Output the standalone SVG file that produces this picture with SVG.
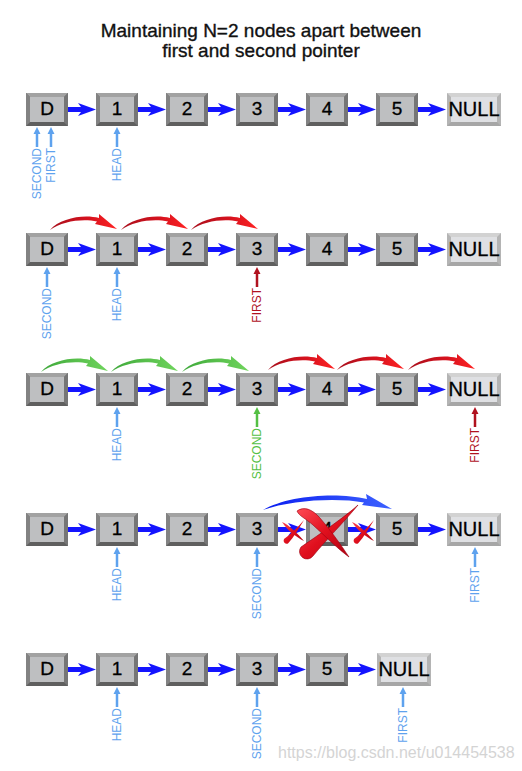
<svg xmlns="http://www.w3.org/2000/svg" width="522" height="771" viewBox="0 0 522 771">
<style>
.t{font-family:"Liberation Sans",Arial,sans-serif}
.title{font-size:19px;fill:#111;stroke:#111;stroke-width:0.35px;text-anchor:middle}
.nt{font-size:19px;fill:#000;stroke:#000;stroke-width:0.3px;text-anchor:middle}
.nn{font-size:20px;fill:#000;stroke:#000;stroke-width:0.3px;text-anchor:middle}
.pl{font-size:12px;text-anchor:end}
.b{fill:#5ea2ee}
.r{fill:#b0121f}
.g{fill:#54c044}
.lk{fill:#1414ff}
.wm{font-size:16px;fill:#d4d4d4}
</style>
<defs>
<linearGradient id="gRed" x1="0" y1="0" x2="1" y2="0">
<stop offset="0" stop-color="#a80f1c"/><stop offset="0.6" stop-color="#d8121e"/><stop offset="1" stop-color="#ff2424"/>
</linearGradient>
<linearGradient id="gGreen" x1="0" y1="0" x2="1" y2="0">
<stop offset="0" stop-color="#3ea83a"/><stop offset="1" stop-color="#6fd45c"/>
</linearGradient>
<linearGradient id="gBlue" x1="0" y1="0" x2="1" y2="0">
<stop offset="0" stop-color="#0a1ef0"/><stop offset="1" stop-color="#3d62ff"/>
</linearGradient>
<linearGradient id="gX" x1="0" y1="0" x2="1" y2="1">
<stop offset="0" stop-color="#ff4a55"/><stop offset="0.5" stop-color="#e0101e"/><stop offset="1" stop-color="#b00010"/>
</linearGradient>
<g id="box">
<rect width="42" height="33" fill="#6e6e6e"/>
<polygon points="0,0 42,0 38,4 4,4" fill="#a2a2a2"/>
<polygon points="0,33 42,33 38,29 4,29" fill="#5f5f5f"/>
<polygon points="0,0 4,4 4,29 0,33" fill="#828282"/>
<polygon points="42,0 38,4 38,29 42,33" fill="#767676"/>
<rect x="4" y="4" width="34" height="25" fill="#bebfc1"/>
</g>
<g id="nbox">
<rect width="54" height="33" fill="#b4b4b4"/>
<polygon points="0,0 54,0 50,4 4,4" fill="#d2d2d2"/>
<polygon points="0,33 54,33 50,29 4,29" fill="#a6a6a6"/>
<rect x="4" y="4" width="46" height="25" fill="#dfe0e3"/>
</g>
<path id="link" d="M0,-2.5 H13 L10,-6.5 L28,0 L10,6.5 L13,2.5 H0 Z"/>
<path id="ptr" d="M0,0 L3.5,7 L1.25,7 L1.25,20 L-1.25,20 L-1.25,7 L-3.5,7 Z"/>
<path id="arc" d="M0,0 C10,-12 34,-16 49,-12 L49,-16 L67,-1 L45,-6 L47,-8.5 C33,-11.5 12,-9 0,0 Z"/>
<path id="bigArc" d="M0,0 C25,-15 75,-18 104,-11 L103,-16 L129,-1 L99,-5 L101,-7.5 C74,-12.5 28,-10 0,0 Z"/>
<g id="smallX">
<path d="M-11,-9 C-4,-6 4,2 11,10 C3,6 -5,0 -11,-9 Z" fill="url(#gX)"/>
<path d="M11,-11 C5,-4 -2,3 -9,8 A3.2,3.2 0 0 0 -5,12.5 C1,6 6,-3 11,-11 Z" fill="url(#gX)"/>
</g>
</defs>

<g id="title" class="t">
<text class="title" x="261" y="37">Maintaining N=2 nodes apart between</text>
<text class="title" x="261" y="57">first and second pointer</text>
</g>

<!-- Row 1 -->
<g id="r1-D" class="t"><use href="#box" x="26" y="93"/><text class="nt" x="47" y="114.5">D</text></g>
<g id="r1-1" class="t"><use href="#box" x="96" y="93"/><text class="nt" x="117" y="114.5">1</text></g>
<g id="r1-2" class="t"><use href="#box" x="166" y="93"/><text class="nt" x="187" y="114.5">2</text></g>
<g id="r1-3" class="t"><use href="#box" x="236" y="93"/><text class="nt" x="257" y="114.5">3</text></g>
<g id="r1-4" class="t"><use href="#box" x="306" y="93"/><text class="nt" x="327" y="114.5">4</text></g>
<g id="r1-5" class="t"><use href="#box" x="376" y="93"/><text class="nt" x="397" y="114.5">5</text></g>
<g id="r1-NULL" class="t"><use href="#nbox" x="447" y="93"/><text class="nn" x="474" y="116">NULL</text></g>
<g id="r1-SECOND" class="t b"><use href="#ptr" x="37" y="127"/><text class="pl" transform="translate(41.3,148) rotate(-90)">SECOND</text></g>
<g id="r1-FIRST" class="t b"><use href="#ptr" x="51" y="127"/><text class="pl" transform="translate(55.3,148) rotate(-90)">FIRST</text></g>
<g id="r1-HEAD" class="t b"><use href="#ptr" x="117" y="127"/><text class="pl" transform="translate(121.3,148) rotate(-90)">HEAD</text></g>

<!-- Row 2 -->
<g id="r2-D" class="t"><use href="#box" x="26" y="233"/><text class="nt" x="47" y="254.5">D</text></g>
<g id="r2-1" class="t"><use href="#box" x="96" y="233"/><text class="nt" x="117" y="254.5">1</text></g>
<g id="r2-2" class="t"><use href="#box" x="166" y="233"/><text class="nt" x="187" y="254.5">2</text></g>
<g id="r2-3" class="t"><use href="#box" x="236" y="233"/><text class="nt" x="257" y="254.5">3</text></g>
<g id="r2-4" class="t"><use href="#box" x="306" y="233"/><text class="nt" x="327" y="254.5">4</text></g>
<g id="r2-5" class="t"><use href="#box" x="376" y="233"/><text class="nt" x="397" y="254.5">5</text></g>
<g id="r2-NULL" class="t"><use href="#nbox" x="447" y="233"/><text class="nn" x="474" y="256">NULL</text></g>
<g id="r2-SECOND" class="t b"><use href="#ptr" x="47" y="267"/><text class="pl" transform="translate(51.3,288) rotate(-90)">SECOND</text></g>
<g id="r2-HEAD" class="t b"><use href="#ptr" x="117" y="267"/><text class="pl" transform="translate(121.3,288) rotate(-90)">HEAD</text></g>
<g id="r2-FIRST" class="t r"><use href="#ptr" x="257" y="267"/><text class="pl" transform="translate(261.3,288) rotate(-90)">FIRST</text></g>

<!-- Row 3 -->
<g id="r3-D" class="t"><use href="#box" x="26" y="373"/><text class="nt" x="47" y="394.5">D</text></g>
<g id="r3-1" class="t"><use href="#box" x="96" y="373"/><text class="nt" x="117" y="394.5">1</text></g>
<g id="r3-2" class="t"><use href="#box" x="166" y="373"/><text class="nt" x="187" y="394.5">2</text></g>
<g id="r3-3" class="t"><use href="#box" x="236" y="373"/><text class="nt" x="257" y="394.5">3</text></g>
<g id="r3-4" class="t"><use href="#box" x="306" y="373"/><text class="nt" x="327" y="394.5">4</text></g>
<g id="r3-5" class="t"><use href="#box" x="376" y="373"/><text class="nt" x="397" y="394.5">5</text></g>
<g id="r3-NULL" class="t"><use href="#nbox" x="447" y="373"/><text class="nn" x="474" y="396">NULL</text></g>
<g id="r3-HEAD" class="t b"><use href="#ptr" x="117" y="407"/><text class="pl" transform="translate(121.3,428) rotate(-90)">HEAD</text></g>
<g id="r3-SECOND" class="t g"><use href="#ptr" x="257" y="407"/><text class="pl" transform="translate(261.3,428) rotate(-90)">SECOND</text></g>
<g id="r3-FIRST" class="t r"><use href="#ptr" x="475" y="407"/><text class="pl" transform="translate(479.3,428) rotate(-90)">FIRST</text></g>

<!-- Row 4 -->
<g id="r4-D" class="t"><use href="#box" x="26" y="513"/><text class="nt" x="47" y="534.5">D</text></g>
<g id="r4-1" class="t"><use href="#box" x="96" y="513"/><text class="nt" x="117" y="534.5">1</text></g>
<g id="r4-2" class="t"><use href="#box" x="166" y="513"/><text class="nt" x="187" y="534.5">2</text></g>
<g id="r4-3" class="t"><use href="#box" x="236" y="513"/><text class="nt" x="257" y="534.5">3</text></g>
<g id="r4-4" class="t"><use href="#box" x="306" y="513"/><text class="nt" x="327" y="534.5">4</text></g>
<g id="r4-5" class="t"><use href="#box" x="376" y="513"/><text class="nt" x="397" y="534.5">5</text></g>
<g id="r4-NULL" class="t"><use href="#nbox" x="447" y="513"/><text class="nn" x="474" y="536">NULL</text></g>
<g id="r4-HEAD" class="t b"><use href="#ptr" x="117" y="547"/><text class="pl" transform="translate(121.3,568) rotate(-90)">HEAD</text></g>
<g id="r4-SECOND" class="t b"><use href="#ptr" x="257" y="547"/><text class="pl" transform="translate(261.3,568) rotate(-90)">SECOND</text></g>
<g id="r4-FIRST" class="t b"><use href="#ptr" x="475" y="547"/><text class="pl" transform="translate(479.3,568) rotate(-90)">FIRST</text></g>

<!-- Row 5 -->
<g id="r5-D" class="t"><use href="#box" x="26" y="653"/><text class="nt" x="47" y="674.5">D</text></g>
<g id="r5-1" class="t"><use href="#box" x="96" y="653"/><text class="nt" x="117" y="674.5">1</text></g>
<g id="r5-2" class="t"><use href="#box" x="166" y="653"/><text class="nt" x="187" y="674.5">2</text></g>
<g id="r5-3" class="t"><use href="#box" x="236" y="653"/><text class="nt" x="257" y="674.5">3</text></g>
<g id="r5-5" class="t"><use href="#box" x="306" y="653"/><text class="nt" x="327" y="674.5">5</text></g>
<g id="r5-NULL" class="t"><use href="#nbox" x="377" y="653"/><text class="nn" x="404" y="676">NULL</text></g>
<g id="r5-HEAD" class="t b"><use href="#ptr" x="117" y="687"/><text class="pl" transform="translate(121.3,708) rotate(-90)">HEAD</text></g>
<g id="r5-SECOND" class="t b"><use href="#ptr" x="257" y="687"/><text class="pl" transform="translate(261.3,708) rotate(-90)">SECOND</text></g>
<g id="r5-FIRST" class="t b"><use href="#ptr" x="403" y="687"/><text class="pl" transform="translate(407.3,708) rotate(-90)">FIRST</text></g>

<g id="connectors">
<g class="lk">
<use href="#link" x="68" y="109.5"/><use href="#link" x="138" y="109.5"/><use href="#link" x="208" y="109.5"/><use href="#link" x="278" y="109.5"/><use href="#link" x="348" y="109.5"/><use href="#link" x="418" y="109.5"/>
<use href="#link" x="68" y="249.5"/><use href="#link" x="138" y="249.5"/><use href="#link" x="208" y="249.5"/><use href="#link" x="278" y="249.5"/><use href="#link" x="348" y="249.5"/><use href="#link" x="418" y="249.5"/>
<use href="#link" x="68" y="389.5"/><use href="#link" x="138" y="389.5"/><use href="#link" x="208" y="389.5"/><use href="#link" x="278" y="389.5"/><use href="#link" x="348" y="389.5"/><use href="#link" x="418" y="389.5"/>
<use href="#link" x="68" y="529.5"/><use href="#link" x="138" y="529.5"/><use href="#link" x="208" y="529.5"/><use href="#link" x="278" y="529.5"/><use href="#link" x="348" y="529.5"/><use href="#link" x="418" y="529.5"/>
<use href="#link" x="68" y="669.5"/><use href="#link" x="138" y="669.5"/><use href="#link" x="208" y="669.5"/><use href="#link" x="278" y="669.5"/><use href="#link" x="348" y="669.5"/>
</g>
<!-- row 2 red arcs -->
<use href="#arc" x="50" y="230" fill="url(#gRed)"/>
<use href="#arc" x="121" y="230" fill="url(#gRed)"/>
<use href="#arc" x="191" y="230" fill="url(#gRed)"/>
<!-- row 3 green + red arcs -->
<use href="#arc" x="41" y="372" fill="url(#gGreen)"/>
<use href="#arc" x="111" y="372" fill="url(#gGreen)"/>
<use href="#arc" x="182" y="372" fill="url(#gGreen)"/>
<use href="#arc" x="268" y="370" fill="url(#gRed)"/>
<use href="#arc" x="337" y="370" fill="url(#gRed)"/>
<use href="#arc" x="408" y="370" fill="url(#gRed)"/>
<!-- row 4 skip arc -->
<use href="#bigArc" x="263" y="510" fill="url(#gBlue)"/>
</g>

<g id="deletion-marks">
<use href="#smallX" x="293" y="531"/>
<use href="#smallX" x="363" y="531"/>
<path d="M358,505 C346,516 320,534 301,547 A6.5,6.5 0 0 0 313,556 C326,540 345,521 358,505 Z" fill="url(#gX)" stroke="#9a0010" stroke-width="0.6"/>
<path d="M297,511 C304,506 312,509 320,518 C332,532 341,545 349,557 C338,549 325,536 313,525 C305,518 299,516 297,511 Z" fill="url(#gX)" stroke="#9a0010" stroke-width="0.6"/>
</g>

<text class="t wm" x="278" y="758">https://blog.csdn.net/u014454538</text>
</svg>
